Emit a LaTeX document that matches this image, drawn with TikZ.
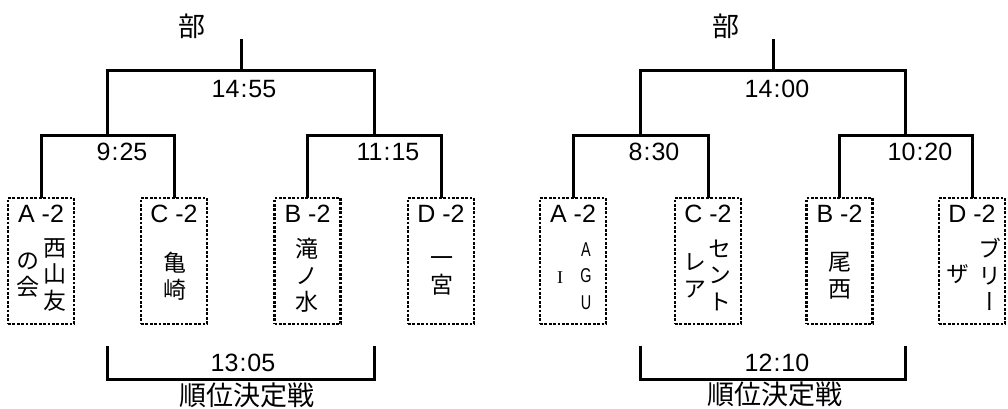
\documentclass[tikz,border=0pt]{standalone}
\usepackage{fontspec}
\setmainfont{Liberation Sans}
\newfontfamily\cjk{Noto Sans CJK JP}
\newfontfamily\cjkv[RawFeature=+vert]{Noto Sans CJK JP}
\newfontfamily\narrowsans[FakeStretch=0.72]{Liberation Sans}
\newfontfamily\serifI{Liberation Serif}
\begin{document}
\begin{tikzpicture}[x=1pt,y=-1pt,
  bar/.style={line width=3pt, line cap=rect},
  team/.style={draw, line width=2.8pt, dash pattern=on 2.8pt off 1.6pt,
    minimum width=66pt, minimum height=126pt, inner sep=0pt},
  title/.style={font=\cjk\fontsize{27}{30}\selectfont, inner sep=0pt},
  time/.style={font=\fontsize{25}{30}\selectfont, inner sep=0pt},
  tlbl/.style={font=\fontsize{25}{30}\selectfont, inner sep=0pt},
  col/.style={font=\cjkv\fontsize{23}{26.5}\selectfont, align=center, inner sep=0pt},
  lat/.style={font=\narrowsans\fontsize{20}{26.5}\selectfont, align=center, inner sep=0pt},
]
\useasboundingbox (0,0) rectangle (1008,409);

% ---------------- left bracket ----------------
\node[title] (t1) at (192,26) {部};
\coordinate (r1) at (241,41);
\coordinate (m1) at (241,71);
\coordinate (j1) at (107.5,135);
\coordinate (j2) at (374.25,135);
\node[team] (a1) at (41,261) {};
\node[team] (c1) at (174,261) {};
\node[team] (b1) at (307.5,261) {};
\node[team] (d1) at (441,261) {};
\draw[bar] (r1) -- (m1);
\draw[bar] (j1) |- (m1) -| (j2);
\draw[bar] (a1.north) |- (j1) -| (c1.north);
\draw[bar] (b1.north) |- (j2) -| (d1.north);
\node[time] (x1) at (244,89) {14\kern1pt:\kern1pt55};
\node[time] (x2) at (122,152) {9\kern1pt:\kern1pt25};
\node[time] (x3) at (388,152) {11\kern1pt:\kern1pt15};

\node[tlbl] (a1l) at (41,214) {A -2};
\node[tlbl] (c1l) at (174,214) {C -2};
\node[tlbl] (b1l) at (307.5,214) {B -2};
\node[tlbl] (d1l) at (441,214) {D -2};

\node[col] (a1n1) at (55,275) {西\\山\\友};
\node[col] (a1n2) at (28,275) {の\\会};
\node[col] (c1n) at (175,276) {亀\\崎};
\node[col] (b1n) at (307,275.5) {滝\\ノ\\水};
\node[col] (d1n) at (442,276) {一\\宮};

\coordinate (q1) at (107.5,347);
\coordinate (q2) at (374.25,347);
\coordinate (qm1) at (241,379);
\draw[bar] (q1) |- (qm1) -| (q2);
\node[time] (x4) at (243,363) {13\kern1pt:\kern1pt05};
\node[title] (f1) at (246.5,395) {順位決定戦};

% ---------------- right bracket ----------------
\node[title] (t2) at (726,26) {部};
\coordinate (r2) at (773,41);
\coordinate (m2) at (773,71);
\coordinate (j3) at (640.5,135);
\coordinate (j4) at (905.75,135);
\node[team] (a2) at (573,261) {};
\node[team] (c2) at (708,261) {};
\node[team] (b2) at (839.5,261) {};
\node[team] (d2) at (972,261) {};
\draw[bar] (r2) -- (m2);
\draw[bar] (j3) |- (m2) -| (j4);
\draw[bar] (a2.north) |- (j3) -| (c2.north);
\draw[bar] (b2.north) |- (j4) -| (d2.north);
\node[time] (y1) at (777,89) {14\kern1pt:\kern1pt00};
\node[time] (y2) at (654,152) {8\kern1pt:\kern1pt30};
\node[time] (y3) at (920,152) {10\kern1pt:\kern1pt20};

\node[tlbl] (a2l) at (573,214) {A -2};
\node[tlbl] (c2l) at (708,214) {C -2};
\node[tlbl] (b2l) at (839.5,214) {B -2};
\node[tlbl] (d2l) at (972,214) {D -2};

\node[lat] (a2n1) at (586,276) {A\\G\\U};
\node[font=\serifI\fontsize{18}{20}\selectfont, inner sep=0pt] (a2n2) at (560,277.5) {I};
\node[col] (c2n1) at (720,275) {セ\\ン\\ト};
\node[col] (c2n2) at (695,276) {レ\\ア};
\node[col] (b2n) at (840,276) {尾\\西};
\node[col] (d2n1) at (990,274.5) {ブ\\リ\\ー};
\node[col] (d2n2) at (958,274) {ザ};

\coordinate (q3) at (640.5,347);
\coordinate (q4) at (905.75,347);
\coordinate (qm2) at (773,379);
\draw[bar] (q3) |- (qm2) -| (q4);
\node[time] (y4) at (777,363) {12\kern1pt:\kern1pt10};
\node[title] (f2) at (774.5,394) {順位決定戦};
\end{tikzpicture}
\end{document}
